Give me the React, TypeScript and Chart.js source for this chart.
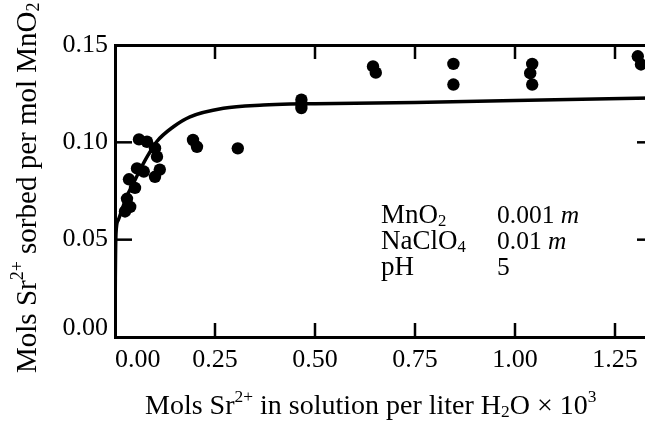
import React, { useEffect, useRef } from "react";
import { Chart, registerables } from "chart.js";

Chart.register(...registerables);

// ---- data ----
const pointX = [0.025, 0.03, 0.038, 0.035, 0.05, 0.055, 0.072, 0.06, 0.08, 0.1, 0.105, 0.1, 0.112, 0.195, 0.205, 0.307, 0.466, 0.466, 0.466, 0.645, 0.652, 0.846, 0.846, 1.043, 1.038, 1.043, 1.307, 1.315];
const pointY = [0.0645, 0.071, 0.0668, 0.081, 0.0766, 0.0866, 0.085, 0.1015, 0.1003, 0.097, 0.0926, 0.0823, 0.086, 0.1012, 0.0977, 0.0969, 0.1219, 0.1196, 0.1176, 0.139, 0.1358, 0.1403, 0.1297, 0.1403, 0.1355, 0.1297, 0.1442, 0.14];

const curveX = [0, 0.0008, 0.0025, 0.008, 0.017, 0.029, 0.046, 0.0625, 0.083, 0.104, 0.146, 0.1875, 0.271, 0.371, 0.4375, 0.5, 0.75, 1.0, 1.34];
const curveY = [0, 0.03, 0.0533, 0.06, 0.0652, 0.072, 0.079, 0.0858, 0.0935, 0.1003, 0.108, 0.1131, 0.1175, 0.1192, 0.1197, 0.1198, 0.1205, 0.1215, 0.1228];

const xMin = 0;
const xMax = 1.34;
const xStep = 0.25;
const yMin = 0;
const yMax = 0.15;
const yStep = 0.05;

type Seg = { t: string; sup?: boolean; sub?: boolean; it?: boolean };

const xTitle: Seg[] = [
  { t: "Mols Sr" }, { t: "2+", sup: true }, { t: " in solution per liter H" }, { t: "2", sub: true },
  { t: "O \u00d7 10" }, { t: "3", sup: true },
];
const yTitle: Seg[] = [
  { t: "Mols Sr" }, { t: "2+", sup: true }, { t: " sorbed per mol MnO" }, { t: "2", sub: true },
];
const noteLabels: Seg[][] = [
  [{ t: "MnO" }, { t: "2", sub: true }],
  [{ t: "NaClO" }, { t: "4", sub: true }],
  [{ t: "pH" }],
];
const noteValues: Seg[][] = [
  [{ t: "0.001 " }, { t: "m", it: true }],
  [{ t: "0.01 " }, { t: "m", it: true }],
  [{ t: "5" }],
];

const SERIF = '"Liberation Serif", "Times New Roman", Times, serif';

function segFont(size: number, s: Seg) {
  const sz = s.sup ? size * 0.62 : s.sub ? size * 0.62 : size;
  return `${s.it ? "italic " : ""}${sz.toFixed(1)}px ${SERIF}`;
}

function drawRich(ctx: CanvasRenderingContext2D, segs: Seg[], x: number, y: number, size: number) {
  let cx = x;
  ctx.textAlign = "left";
  ctx.textBaseline = "alphabetic";
  for (const s of segs) {
    ctx.font = segFont(size, s);
    const dy = s.sup ? -size * 0.44 : s.sub ? size * 0.12 : 0;
    ctx.fillText(s.t, cx, y + dy);
    cx += ctx.measureText(s.t).width;
  }
}

const decor = {
  id: "decor",
  afterDraw(chart: any) {
    const { ctx, chartArea: a, scales } = chart;
    const xs = scales.x;
    const ys = scales.y;
    ctx.save();
    ctx.strokeStyle = "#000";
    ctx.lineWidth = 2.5;
    const line = (x1: number, y1: number, x2: number, y2: number) => {
      ctx.beginPath();
      ctx.moveTo(x1, y1);
      ctx.lineTo(x2, y2);
      ctx.stroke();
    };
    xs.ticks.forEach((t: any) => {
      if (t.value <= xs.min || t.value >= xs.max - 1e-9) return;
      const px = xs.getPixelForValue(t.value);
      line(px, a.bottom, px, a.bottom - 14);
      line(px, a.top, px, a.top + 14);
    });
    ys.ticks.forEach((t: any) => {
      if (t.value <= ys.min + 1e-9 || t.value >= ys.max - 1e-9) return;
      const py = ys.getPixelForValue(t.value);
      line(a.left, py, a.left + 17, py);
      line(a.right, py, a.right - 14, py);
    });

    ctx.fillStyle = "#000";
    // x-axis title
    drawRich(ctx, xTitle, 145, 414, 28);
    // y-axis title (rotated)
    ctx.save();
    ctx.translate(36, 373);
    ctx.rotate(-Math.PI / 2);
    drawRich(ctx, yTitle, 0, 0, 29);
    ctx.restore();
    // annotation
    const baselines = [223, 249, 275];
    noteLabels.forEach((segs, i) => drawRich(ctx, segs, 381, baselines[i], 27));
    noteValues.forEach((segs, i) => drawRich(ctx, segs, 497, baselines[i], 25.5));
    ctx.restore();
  },
};

export default function App() {
  const ref = useRef<HTMLCanvasElement | null>(null);

  useEffect(() => {
    if (!ref.current) return;
    Chart.defaults.color = "#000";
    const tickFont = { family: SERIF, size: 26 };
    const chart = new Chart(ref.current, {
      type: "scatter",
      data: {
        datasets: [
          {
            type: "line",
            label: "fit",
            data: curveX.map((x, i) => ({ x, y: curveY[i] })),
            borderColor: "#000",
            borderWidth: 3.5,
            pointRadius: 0,
            fill: false,
            cubicInterpolationMode: "monotone",
          } as any,
          {
            type: "scatter",
            label: "measured",
            data: pointX.map((x, i) => ({ x, y: pointY[i] })),
            backgroundColor: "#000",
            borderColor: "#000",
            borderWidth: 0,
            pointRadius: 6.2,
            pointHoverRadius: 6.2,
          },
        ],
      },
      options: {
        responsive: false,
        maintainAspectRatio: false,
        devicePixelRatio: 1,
        animation: false,
        events: [],
        layout: { padding: 0 },
        plugins: { legend: { display: false }, tooltip: { enabled: false }, title: { display: false } },
        scales: {
          x: {
            type: "linear",
            position: "bottom",
            min: xMin,
            max: xMax,
            grid: { display: false, drawTicks: false },
            border: { display: true, color: "#000", width: 3 },
            afterBuildTicks: (s: any) => {
              // add an unlabeled bound tick so that 'inner' alignment only shifts the first label
              s.ticks = [...s.ticks, { value: xMax }];
            },
            ticks: {
              stepSize: xStep,
              includeBounds: false,
              maxRotation: 0,
              autoSkip: false,
              align: "inner",
              padding: 8,
              font: tickFont,
              color: "#000",
              callback: (v: any) => (Number(v) >= xMax - 1e-9 ? "" : Number(v).toFixed(2)),
            },
            afterFit: (s: any) => { s.height = 86; },
          },
          x2: {
            type: "linear",
            position: "top",
            display: true,
            min: xMin,
            max: xMax,
            grid: { display: false, drawTicks: false },
            border: { display: true, color: "#000", width: 3 },
            ticks: { display: false },
            afterFit: (s: any) => { s.height = 45; },
          },
          y: {
            type: "linear",
            position: "left",
            min: yMin,
            max: yMax,
            grid: { display: false, drawTicks: false },
            border: { display: true, color: "#000", width: 3 },
            ticks: {
              stepSize: yStep,
              includeBounds: false,
              padding: 7,
              font: (c: any) => ({
                family: SERIF,
                size: 26,
                lineHeight: c.tick && Math.abs(c.tick.value) < 1e-9 ? 0.7 : 1.2,
              }),
              color: "#000",
              // the bottom label sits a little above its tick in the reference
              callback: (v: any) => (Math.abs(Number(v)) < 1e-9 ? ["0.00", " "] : Number(v).toFixed(2)),
            },
            afterFit: (s: any) => { s.width = 115; },
          },
          y2: {
            type: "linear",
            position: "right",
            display: true,
            min: yMin,
            max: yMax,
            grid: { display: false, drawTicks: false },
            border: { display: true, color: "#000", width: 3 },
            ticks: { display: false },
            afterFit: (s: any) => { s.width = 14; },
          },
        },
      } as any,
      plugins: [decor],
    });
    return () => chart.destroy();
  }, []);

  return (
    <div
      style={{
        position: "fixed",
        left: 0,
        top: 0,
        width: 645,
        height: 423,
        overflow: "hidden",
        background: "#fff",
      }}
    >
      <canvas ref={ref} width={665} height={423} style={{ display: "block", width: 665, height: 423 }} />
    </div>
  );
}
